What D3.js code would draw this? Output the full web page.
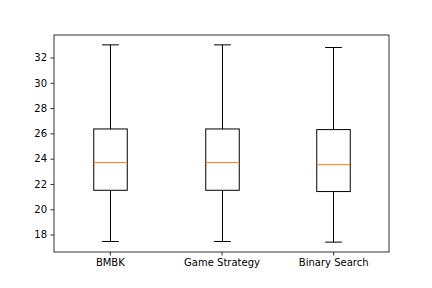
<!DOCTYPE html>
<head>
  <meta charset="UTF-8">
  <title>boxplot</title>
  <style>
  body, html, svg{
    padding: 0;
    margin: 0;
  }
  body{
    background: #fff;
  }
  text{
    font-family: "DejaVu Sans", sans-serif;
    font-size: 10px;
    fill: #000;
  }
  </style>
</head>
<body>
  <script src="https://cdn.jsdelivr.net/npm/d3@7/dist/d3.min.js"></script>
  <script type="text/javascript">
  var width = 432;
  var height = 288;

  // data
  var categories = ['BMBK', 'Game Strategy', 'Binary Search'];
  var whiskerLow  = [17.45, 17.45, 17.4];
  var q1          = [21.5, 21.5, 21.4];
  var medians     = [23.69, 23.69, 23.53];
  var q3          = [26.35, 26.35, 26.3];
  var whiskerHigh = [33.0, 33.0, 32.79];
  var yTicks = [18, 20, 22, 24, 26, 28, 30, 32];

  var margin = {left: 54, right: 43, top: 35, bottom: 36};
  var x0 = margin.left, x1 = width - margin.right;
  var y0 = margin.top, y1 = height - margin.bottom;

  var svg = d3.select('body')
    .append('svg')
    .attr('width', width)
    .attr('height', height);

  // matplotlib style 5% padding
  var lo = d3.min(whiskerLow), hi = d3.max(whiskerHigh);
  var pad = (hi - lo) * 0.05;

  var x = d3.scaleLinear().domain([0.5, categories.length + 0.5]).range([x0, x1]);
  var y = d3.scaleLinear().domain([lo - pad, hi + pad]).range([y1, y0]);

  var boxes = categories.map(function(c, i){
    return {name: c, pos: i + 1, lo: whiskerLow[i], q1: q1[i], med: medians[i], q3: q3[i], hi: whiskerHigh[i]};
  });

  var boxW = 0.3, capW = 0.15;

  var g = svg.append('g');
  boxes.forEach(function(b){
    var cx = Math.round(x(b.pos)) + 0.5;
    var half = (x(b.pos + boxW / 2) - x(b.pos));
    var capHalf = (x(b.pos + capW / 2) - x(b.pos));
    // whiskers
    g.append('line').attr('x1', cx).attr('x2', cx).attr('y1', y(b.lo)).attr('y2', y(b.q1))
      .attr('stroke', '#000').attr('stroke-width', 1);
    g.append('line').attr('x1', cx).attr('x2', cx).attr('y1', y(b.q3)).attr('y2', y(b.hi))
      .attr('stroke', '#000').attr('stroke-width', 1);
    // caps
    [b.lo, b.hi].forEach(function(v){
      g.append('line').attr('x1', cx - capHalf).attr('x2', cx + capHalf).attr('y1', y(v)).attr('y2', y(v))
        .attr('stroke', '#000').attr('stroke-width', 1);
    });
    // box
    g.append('rect')
      .attr('x', cx - half).attr('y', y(b.q3))
      .attr('width', half * 2).attr('height', y(b.q1) - y(b.q3))
      .attr('fill', 'none').attr('stroke', '#000').attr('stroke-width', 1);
    // median
    g.append('line').attr('x1', cx - half).attr('x2', cx + half).attr('y1', y(b.med)).attr('y2', y(b.med))
      .attr('stroke', '#ff7f0e').attr('stroke-width', 1);
  });

  // axes
  var yAxis = d3.axisLeft(y).tickValues(yTicks).tickSize(3.5).tickPadding(3.5).tickFormat(d3.format('d'));
  var yg = svg.append('g').attr('transform', 'translate(' + x0 + ',0)').call(yAxis);
  var xAxis = d3.axisBottom(x).tickValues(boxes.map(function(b){ return b.pos; }))
    .tickSize(3.5).tickPadding(3.5).tickFormat(function(d){ return categories[d - 1]; });
  var xg = svg.append('g').attr('transform', 'translate(0,' + y1 + ')').call(xAxis);

  [yg, xg].forEach(function(a){
    a.select('.domain').remove();
    a.selectAll('.tick line').attr('stroke', '#000').attr('stroke-width', 0.8);
    a.selectAll('.tick text').attr('font-family', '"DejaVu Sans", sans-serif').attr('font-size', 10).attr('fill', '#000');
  });

  // frame
  svg.append('rect')
    .attr('x', x0).attr('y', y0).attr('width', x1 - x0).attr('height', y1 - y0)
    .attr('fill', 'none').attr('stroke', '#000').attr('stroke-width', 0.8);
  </script>
</body>
</html>
